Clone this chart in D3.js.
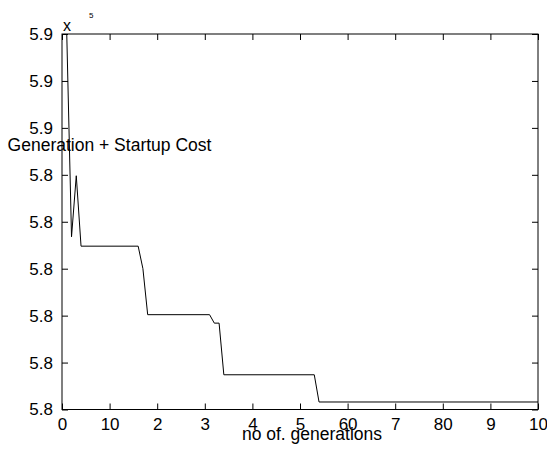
<!DOCTYPE html>
<html>
<head>
<meta charset="utf-8">
<script src="https://cdn.jsdelivr.net/npm/d3@7"></script>
<style>
  body { margin: 0; background: #fff; }
  svg text { font-family: 'Liberation Sans', Arial, sans-serif; fill: #000; }
</style>
</head>
<body>
<svg id="chart" width="547" height="453"></svg>
<script>
// generation number and total cost (x 10^5) at each point where the curve changes
const generations = [1, 2, 3, 4, 16, 17, 18, 31, 32, 33, 34, 53, 54, 100];
const costs = [5.8600, 5.8384, 5.8449, 5.8374, 5.8374, 5.8350, 5.8301, 5.8301,
               5.8292, 5.8292, 5.8237, 5.8237, 5.8208, 5.8208];

const xTicks = [0, 10, 20, 30, 40, 50, 60, 70, 80, 90, 100];
const xTickLabels = ['0', '10', '2', '3', '4', '5', '60', '7', '80', '9', '10'];
const yTicks = [5.82, 5.825, 5.83, 5.835, 5.84, 5.845, 5.85, 5.855, 5.86];
const yTickLabels = ['5.8', '5.8', '5.8', '5.8', '5.8', '5.8', '5.9', '5.9', '5.9'];

const plotLeft = 62, plotRight = 538, plotTop = 34, plotBottom = 409.5;
const svg = d3.select('#chart');

const x = d3.scaleLinear().domain([0, 100]).range([plotLeft, plotRight]);
const y = d3.scaleLinear().domain([5.82, 5.86]).range([plotBottom, plotTop]);

// inward ticks on all four sides
svg.append('g')
    .attr('transform', 'translate(0,' + plotBottom + ')')
    .call(d3.axisBottom(x).tickValues(xTicks).tickSize(-6).tickPadding(8)
        .tickFormat((d, i) => xTickLabels[i]));
svg.append('g')
    .attr('transform', 'translate(' + plotLeft + ',0)')
    .call(d3.axisLeft(y).tickValues(yTicks).tickSize(-6).tickPadding(9)
        .tickFormat((d, i) => yTickLabels[i]));
svg.append('g')
    .attr('transform', 'translate(0,' + plotTop + ')')
    .call(d3.axisTop(x).tickValues(xTicks).tickSize(-6).tickFormat(''));
svg.append('g')
    .attr('transform', 'translate(' + plotRight + ',0)')
    .call(d3.axisRight(y).tickValues(yTicks).tickSize(-6).tickFormat(''));

svg.selectAll('.domain').remove();
svg.selectAll('.tick line').attr('stroke', '#000');
svg.selectAll('g text').attr('font-size', 17).attr('font-family', null);

svg.append('rect')
    .attr('x', plotLeft).attr('y', plotTop)
    .attr('width', plotRight - plotLeft).attr('height', plotBottom - plotTop)
    .attr('fill', 'none').attr('stroke', '#000').attr('stroke-width', 1);

svg.append('clipPath').attr('id', 'clip')
  .append('rect')
    .attr('x', plotLeft).attr('y', plotTop)
    .attr('width', plotRight - plotLeft).attr('height', plotBottom - plotTop);

const line = d3.line()
    .x((d, i) => x(generations[i]))
    .y(d => y(d));

svg.append('path')
    .datum(costs)
    .attr('clip-path', 'url(#clip)')
    .attr('d', line)
    .attr('fill', 'none')
    .attr('stroke', '#000')
    .attr('stroke-width', 1);

// exponent marker
svg.append('text').attr('x', 63).attr('y', 31).attr('font-size', 16).text('x');
svg.append('text').attr('x', 89).attr('y', 18).attr('font-size', 8).text('5');

svg.append('text')
    .attr('x', 109.5).attr('y', 150.5)
    .attr('text-anchor', 'middle')
    .attr('font-size', 17.5)
    .text('Generation + Startup Cost');

svg.append('text')
    .attr('x', 312).attr('y', 440)
    .attr('text-anchor', 'middle')
    .attr('font-size', 17.5)
    .text('no of. generations');
</script>
</body>
</html>
